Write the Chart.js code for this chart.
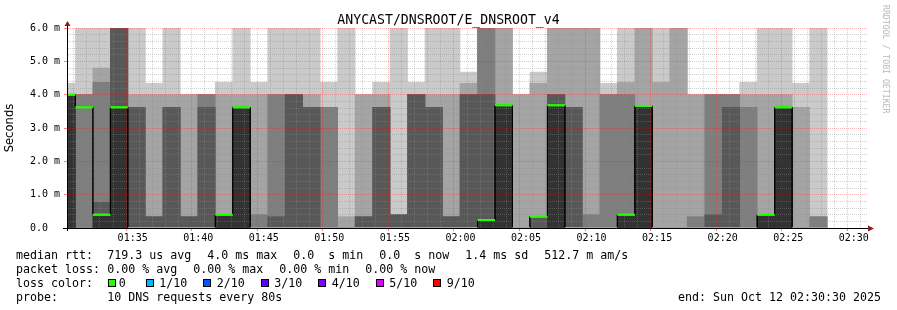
<!DOCTYPE html>
<html>
<head>
<meta charset="utf-8">
<title>ANYCAST/DNSROOT/E_DNSROOT_v4</title>
<script src="https://cdn.jsdelivr.net/npm/chart.js@4.4.1/dist/chart.umd.min.js"></script>
<style>
  html, body { margin: 0; padding: 0; background: #fff; }
  #wrap { position: relative; width: 897px; height: 310px; overflow: hidden; }
  #wrap canvas { position: absolute; left: 0; top: 0; }
  .txt { position: absolute; font: 11.63px 'DejaVu Sans Mono', monospace; line-height: 14px; white-space: pre; color: #000; }
  .box { position: absolute; width: 6px; height: 6px; border: 1px solid #000; }
  #credit { position: absolute; left: 891px; top: 5px; transform-origin: 0 0; transform: rotate(90deg);
            font: 8.2px 'DejaVu Sans Mono', monospace; line-height: 10px; color: #b8b8b8; white-space: pre; }
</style>
</head>
<body>
<div id="wrap">
  <canvas id="chart"></canvas>
  <div id="credit">RRDTOOL / TOBI OETIKER</div>
  <div id="legend"></div>
</div>
<script>
// time is counted in seconds after 01:30:00, one slot = one 80 s probe round
const axisStart = 30;      // 01:30:30
const axisEnd = 3630;      // 02:30:30
const firstSlotStart = -42;
const slotSeconds = 80;
const OFF = 6.5;           // ping above the top of the scale, rrdtool draws it to the edge

const xTickLabels = ['01:35', '01:40', '01:45', '01:50', '01:55', '02:00',
                     '02:05', '02:10', '02:15', '02:20', '02:25', '02:30'];
const yTickValues = [0, 1, 2, 3, 4, 5, 6];
const yTickLabels = ['0.0  ', '1.0 m', '2.0 m', '3.0 m', '4.0 m', '5.0 m', '6.0 m'];

// sorted rtt of the 10 requests per slot, in ms (ping1 = fastest ... ping10 = slowest)
const ping1 = [0,0,0,0,0,0,0,0,0,0,0,0,0,0,0,0,0,0,0,0,0,0,0,0,0,0,0,0,0,0,0,0,0,0,0,0,0,0,0,0,0,0,0,0];
const ping2 = [0,0,0,0,0,0,0,0,0,0,0,0,0,0,0,0,0,0,0,0,0,0,0,0,0,0,0,0,0,0,0,0,0,0,0,0,0,0,0,0,0,0,0,0];
const ping3 = [0,0,0,0,0,0,0,0,0,0,0,0,0,0,0,0,0,0,0,0,0,0,0,0,0,0,0,0,0,0,0,0,0,0,0,0,0,0,0,0,0,0,0,0];
const ping4 = [0,3.62,0,0,0,0,0,0,0,0,0,0,0,0,0,0,0,0,0,0,0,0,0,0,0,0,0,0,0,0,0,0,0,0,0,0,0,0,0,0,0,0,0,0];
const ping5 = [0,3.62,0,0,0,0,0,0,0,0,0,0,0,0,0,0,0,0,0,0,0,0,0,0,0,0,0,0.34,0,0,0,0,0,0,0,0,0,0,0,0,0,0,0,0];
const ping6 = [4.0,3.62,0.4,3.62,0,0,0,0,0,0.4,3.62,0,0,0,0,0,0,0,0,0,0,0,0,0,0.24,3.68,0,0.34,3.68,0,0,0,0.4,3.66,0,0,0,0,0,0,0.4,3.62,0,0];
const ping7 = [4.0,3.62,0.77,OFF,3.62,0.34,3.62,0.34,3.62,0.4,3.62,0,0.34,4.0,3.62,0,0,0.34,3.62,0.4,4.0,3.62,0.34,4.0,4.0,3.68,0,0.34,4.0,3.62,0,0,0.4,3.66,0,0,0,0.4,3.62,0,0.4,3.62,0,0];
const ping8 = [4.0,4.0,4.37,OFF,3.62,0.34,3.62,0.34,4.0,0.4,3.62,0.4,4.0,4.0,3.62,3.62,0,0.34,3.62,0.4,4.0,3.62,0.34,4.0,OFF,3.68,0,0.34,4.0,3.62,0.4,4.0,4.0,3.66,0,0,0.34,4.0,4.0,3.62,0.4,3.62,0,0.34];
const ping9 = [4.0,4.0,4.8,OFF,4.0,4.0,4.0,4.0,4.0,4.0,4.0,4.0,4.0,4.0,4.0,3.62,0.34,4.0,4.0,0.4,4.0,4.0,4.0,4.34,OFF,OFF,4.0,4.34,OFF,OFF,OFF,4.0,4.37,OFF,4.37,OFF,4.0,4.0,4.0,4.0,4.0,4.0,3.62,0.34];
const ping10 = [4.34,OFF,OFF,OFF,OFF,4.34,OFF,4.0,4.0,4.37,OFF,4.37,OFF,OFF,OFF,4.37,OFF,4.0,4.37,OFF,4.37,OFF,OFF,4.68,OFF,OFF,4.0,4.68,OFF,OFF,OFF,4.34,OFF,OFF,OFF,OFF,4.0,4.0,4.0,4.37,OFF,OFF,4.34,OFF];
const medianRtt = ping6;

const rttStats = ['719.3 us avg', '4.0 ms max', '0.0  s min', '0.0  s now', '1.4 ms sd', '512.7 m am/s'];
const lossStats = ['0.00 % avg', '0.00 % max', '0.00 % min', '0.00 % now'];
const lossLabels = ['0', '1/10', '2/10', '3/10', '4/10', '5/10', '9/10'];
const lossColors = ['#26ff00', '#00b8ff', '#0059ff', '#5e00ff', '#7e00ff', '#dd00ff', '#ff0000'];

// smokeping greys, outermost pair of pings lightest
const smokeShades = ['#cacaca', '#a4a4a4', '#7e7e7e', '#585858', '#323232'];
const minorGrid = 'rgba(140,140,140,0.4)';
const majorGrid = 'rgba(255,0,0,0.28)';

const pingRanks = [ping1, ping2, ping3, ping4, ping5, ping6, ping7, ping8, ping9, ping10];
const slotStart = i => firstSlotStart + slotSeconds * i;
const toSeconds = label => {
  const [h, m] = label.split(':').map(Number);
  return (h - 1) * 3600 + (m - 30) * 60;
};
const majorSeconds = xTickLabels.map(toSeconds);
const isMajorX = v => majorSeconds.includes(v);
const minuteMarks = [];
for (let s = Math.ceil(axisStart / 60) * 60; s <= axisEnd; s += 60) minuteMarks.push(s);
const yGridValues = [];
for (let i = 0; i <= 30; i++) yGridValues.push(+(i * 0.2).toFixed(1));
const majorYIndex = v => yTickValues.findIndex(t => Math.abs(t - v) < 1e-6);

// band k spans ping k .. ping (11-k); empty bands get a null so every slot keeps its width.
// all bands share one stack id so they overlap instead of sitting side by side
const datasets = smokeShades.map((shade, k) => ({
  type: 'bar',
  order: 10 - k,
  stack: 'smoke',
  backgroundColor: shade,
  borderWidth: 0,
  barThickness: 'flex',
  barPercentage: 1,
  categoryPercentage: 1,
  data: pingRanks[k].map((lo, i) => {
    const hi = pingRanks[9 - k][i];
    return { x: slotStart(i) + slotSeconds / 2, y: hi > lo ? [lo, hi] : null };
  })
}));

datasets.push({
  type: 'line',
  order: 2,
  borderColor: '#000',
  borderWidth: 1,
  pointRadius: 0,
  stepped: 'before',
  data: medianRtt.map((m, i) => ({ x: slotStart(i), y: m }))
    .concat([{ x: slotStart(medianRtt.length), y: medianRtt[medianRtt.length - 1] }])
});

datasets.push({
  type: 'line',
  order: 1,
  borderColor: lossColors[0],
  borderWidth: 2,
  pointRadius: 0,
  spanGaps: false,
  data: medianRtt.flatMap((m, i) => [
    { x: slotStart(i), y: m }, { x: slotStart(i + 1), y: m }, { x: slotStart(i + 1), y: null }
  ])
});

// the grid is drawn over the smoke, the median line goes over the grid again
const medianOnTop = {
  id: 'medianOnTop',
  afterDraw(chart) {
    const { ctx, chartArea: a } = chart;
    ctx.save();
    ctx.beginPath();
    ctx.rect(a.left, a.top - 1, a.right - a.left, a.bottom - a.top + 2);
    ctx.clip();
    chart.data.datasets.forEach((ds, i) => {
      if (ds.type === 'line') chart.getDatasetMeta(i).controller.draw();
    });
    ctx.restore();
  }
};

const axisArrows = {
  id: 'axisArrows',
  afterDraw(chart) {
    const { ctx, chartArea: a } = chart;
    ctx.save();
    ctx.strokeStyle = '#000';
    ctx.lineWidth = 1;
    ctx.beginPath();
    ctx.moveTo(a.left - 4, a.bottom + 0.5);
    ctx.lineTo(a.right + 2, a.bottom + 0.5);
    ctx.moveTo(a.left + 0.5, a.bottom + 3);
    ctx.lineTo(a.left + 0.5, a.top - 3);
    ctx.stroke();
    ctx.fillStyle = '#8e1b1b';
    ctx.beginPath();
    ctx.moveTo(a.right + 7, a.bottom + 0.5);
    ctx.lineTo(a.right + 1, a.bottom - 2.5);
    ctx.lineTo(a.right + 1, a.bottom + 3.5);
    ctx.closePath();
    ctx.fill();
    ctx.beginPath();
    ctx.moveTo(a.left + 0.5, a.top - 7);
    ctx.lineTo(a.left - 2.5, a.top - 2);
    ctx.lineTo(a.left + 3.5, a.top - 2);
    ctx.closePath();
    ctx.fill();
    ctx.restore();
  }
};

const tickFont = { family: 'DejaVu Sans Mono', size: 10 };

new Chart(document.getElementById('chart'), {
  type: 'bar',
  data: { datasets },
  options: {
    responsive: true,
    maintainAspectRatio: false,
    animation: false,
    events: [],
    layout: { padding: 0 },
    plugins: {
      legend: { display: false },
      tooltip: { enabled: false },
      title: {
        display: true,
        text: 'ANYCAST/DNSROOT/E_DNSROOT_v4',
        color: '#000',
        font: { family: 'DejaVu Sans Mono', size: 13.2, weight: 'normal', lineHeight: 1.2 },
        padding: { top: 12.2, bottom: 0 }
      }
    },
    scales: {
      x: {
        type: 'linear',
        min: axisStart,
        max: axisEnd,
        afterBuildTicks: s => { s.ticks = minuteMarks.map(value => ({ value })); },
        afterFit: s => { s.height = 82; },
        ticks: {
          z: 2, autoSkip: false, maxRotation: 0, minRotation: 0, padding: 1, color: '#000', font: tickFont,
          callback: v => isMajorX(v) ? xTickLabels[majorSeconds.indexOf(v)] : ''
        },
        grid: {
          z: 1,
          lineWidth: 1,
          tickLength: 3,
          color: c => isMajorX(c.tick && c.tick.value) ? majorGrid : minorGrid,
          tickColor: c => isMajorX(c.tick && c.tick.value) ? 'rgba(255,0,0,0.5)' : 'rgba(0,0,0,0)'
        },
        border: { z: 2, display: true, color: '#000', width: 1, dash: [1, 1] }
      },
      y: {
        min: 0,
        max: 6,
        stacked: false,
        afterBuildTicks: s => { s.ticks = yGridValues.map(value => ({ value })); },
        afterFit: s => { s.width = 67; },
        ticks: {
          z: 2, autoSkip: false, padding: 4, color: '#000', font: tickFont,
          callback: v => majorYIndex(v) >= 0 ? yTickLabels[majorYIndex(v)] : ''
        },
        grid: {
          z: 1,
          lineWidth: 1,
          tickLength: 3,
          color: c => majorYIndex(c.tick ? c.tick.value : -1) >= 0 ? majorGrid : minorGrid,
          tickColor: c => majorYIndex(c.tick ? c.tick.value : -1) >= 0 ? 'rgba(255,0,0,0.5)' : 'rgba(0,0,0,0)'
        },
        border: { z: 2, display: true, color: '#000', width: 1, dash: [1, 1] },
        title: {
          display: true,
          text: 'Seconds',
          color: '#000',
          font: { family: 'DejaVu Sans', size: 11.6 },
          padding: { top: 3.5, bottom: 0 }
        }
      },
      // empty right margin so the title stays centred on the whole image
      margin: {
        type: 'linear',
        position: 'right',
        display: true,
        grid: { display: false },
        ticks: { display: false },
        border: { display: false },
        afterFit: s => { s.width = 30; }
      }
    }
  },
  plugins: [medianOnTop, axisArrows]
});

// rrdtool style legend under the graph
const legend = document.getElementById('legend');
function addText(text, left, top) {
  const s = document.createElement('span');
  s.className = 'txt';
  s.textContent = text;
  s.style.left = left + 'px';
  s.style.top = top + 'px';
  legend.appendChild(s);
  return s;
}
function addRow(items, left, top) {
  items.forEach(t => {
    const s = addText(t, left, top);
    left += s.getBoundingClientRect().width + 16;
  });
}
const rowTop = [247.5, 261.5, 275.5, 289.5];
addText('median rtt:', 16, rowTop[0]);
addRow(rttStats, 107.3, rowTop[0]);
addText('packet loss:', 16, rowTop[1]);
addRow(lossStats, 107.3, rowTop[1]);
addText('loss color:', 16, rowTop[2]);
let boxLeft = 108.3;
lossLabels.forEach((lab, i) => {
  const b = document.createElement('div');
  b.className = 'box';
  b.style.left = boxLeft + 'px';
  b.style.top = '278.5px';
  b.style.background = lossColors[i];
  legend.appendChild(b);
  const s = addText(lab, boxLeft + (i === 0 ? 10.5 : 13.5), rowTop[2]);
  boxLeft += (i === 0 ? 10.5 : 13.5) + s.getBoundingClientRect().width + (i === 0 ? 20 : 16);
});
addText('probe:', 16, rowTop[3]);
addText('10 DNS requests every 80s', 107.3, rowTop[3]);
addText('end: Sun Oct 12 02:30:30 2025', 678, rowTop[3]);
</script>
</body>
</html>
